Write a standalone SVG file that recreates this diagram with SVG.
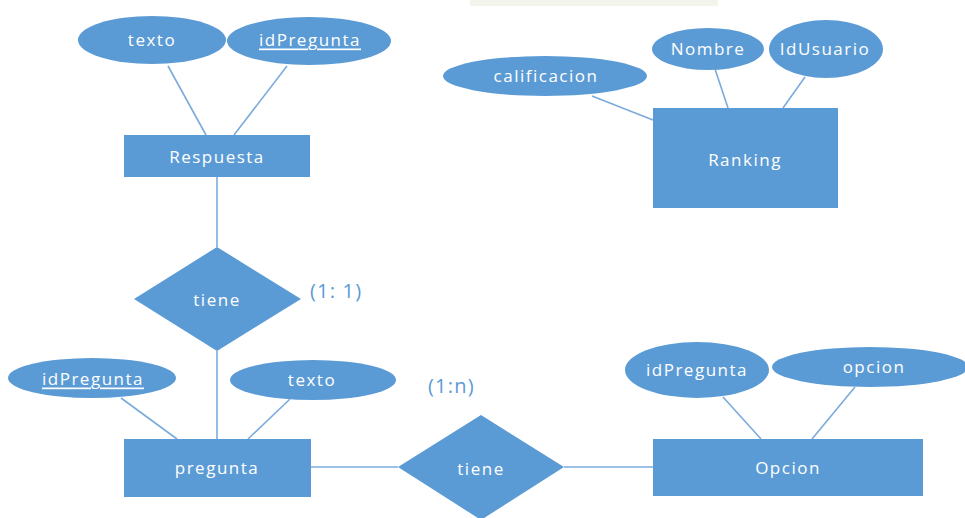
<svg xmlns="http://www.w3.org/2000/svg" width="965" height="518" viewBox="0 0 965 518">
  <style>
    .shape { fill: #5b9bd5; }
    .link { stroke: #7aabdc; stroke-width: 1.6; fill: none; }
    .lbl { fill: #ffffff; font-family: "Open Sans", "Liberation Sans", sans-serif; font-size: 17px; letter-spacing: 1.5px; text-anchor: middle; dominant-baseline: central; }
    .card { fill: #5b9bd5; font-family: "Open Sans", "Liberation Sans", sans-serif; font-size: 20px; letter-spacing: 1.2px; dominant-baseline: central; }
    .key { text-decoration: underline; }
  </style>
  <rect width="965" height="518" fill="#ffffff"/>
  <!-- faint band along the top edge -->
  <rect x="470" y="0" width="248" height="6" fill="#f3f5ec"/>

  <g id="connectors">
    <line class="link" x1="168" y1="66" x2="206" y2="135"/>
    <line class="link" x1="287" y1="66" x2="234" y2="135"/>
    <line class="link" x1="217" y1="177" x2="217" y2="247"/>
    <line class="link" x1="217" y1="351" x2="217" y2="439"/>
    <line class="link" x1="121" y1="398" x2="177" y2="439"/>
    <line class="link" x1="290" y1="399" x2="248" y2="439"/>
    <line class="link" x1="311" y1="467" x2="398" y2="467"/>
    <line class="link" x1="564" y1="467" x2="653" y2="467"/>
    <line class="link" x1="723" y1="397" x2="761" y2="439"/>
    <line class="link" x1="855" y1="387" x2="812" y2="439"/>
    <line class="link" x1="592" y1="96" x2="653" y2="120"/>
    <line class="link" x1="715" y1="69" x2="728" y2="108"/>
    <line class="link" x1="805" y1="77" x2="783" y2="108"/>
  </g>

  <g id="respuesta-texto">
    <ellipse class="shape" cx="152" cy="40" rx="74" ry="24"/>
    <text class="lbl" x="152" y="39">texto</text>
  </g>
  <g id="respuesta-idPregunta">
    <ellipse class="shape" cx="309" cy="41" rx="82" ry="24"/>
    <text class="lbl key" x="310" y="39">idPregunta</text>
  </g>
  <g id="respuesta">
    <rect class="shape" x="124" y="135" width="186" height="42"/>
    <text class="lbl" x="217" y="156">Respuesta</text>
  </g>
  <g id="tiene-1">
    <polygon class="shape" points="217,247 301,299 217,351 134,299"/>
    <text class="lbl" x="217" y="299">tiene</text>
  </g>
  <text class="card" x="310" y="290">(1: 1)</text>

  <g id="pregunta-idPregunta">
    <ellipse class="shape" cx="92" cy="378" rx="84" ry="20"/>
    <text class="lbl key" x="93" y="378">idPregunta</text>
  </g>
  <g id="pregunta-texto">
    <ellipse class="shape" cx="313" cy="380" rx="83" ry="20"/>
    <text class="lbl" x="312" y="379">texto</text>
  </g>
  <g id="pregunta">
    <rect class="shape" x="124" y="439" width="187" height="58"/>
    <text class="lbl" x="217" y="467">pregunta</text>
  </g>
  <text class="card" x="428" y="385">(1:n)</text>
  <g id="tiene-2">
    <polygon class="shape" points="481,415 564,467 481,520 398,467"/>
    <text class="lbl" x="481" y="468">tiene</text>
  </g>

  <g id="opcion-idPregunta">
    <ellipse class="shape" cx="697" cy="370" rx="72" ry="28"/>
    <text class="lbl" x="697" y="369">idPregunta</text>
  </g>
  <g id="opcion-opcion">
    <ellipse class="shape" cx="870" cy="367" rx="98" ry="20"/>
    <text class="lbl" x="874" y="366">opcion</text>
  </g>
  <g id="opcion">
    <rect class="shape" x="653" y="439" width="270" height="57"/>
    <text class="lbl" x="788" y="467">Opcion</text>
  </g>

  <g id="ranking-calificacion">
    <ellipse class="shape" cx="545" cy="76" rx="102" ry="20"/>
    <text class="lbl" x="546" y="75">calificacion</text>
  </g>
  <g id="ranking-nombre">
    <ellipse class="shape" cx="708" cy="49" rx="56" ry="21"/>
    <text class="lbl" x="708" y="48">Nombre</text>
  </g>
  <g id="ranking-idUsuario">
    <ellipse class="shape" cx="826" cy="49" rx="57" ry="29"/>
    <text class="lbl" x="825" y="48">IdUsuario</text>
  </g>
  <g id="ranking">
    <rect class="shape" x="653" y="108" width="185" height="100"/>
    <text class="lbl" x="745" y="159">Ranking</text>
  </g>
</svg>
